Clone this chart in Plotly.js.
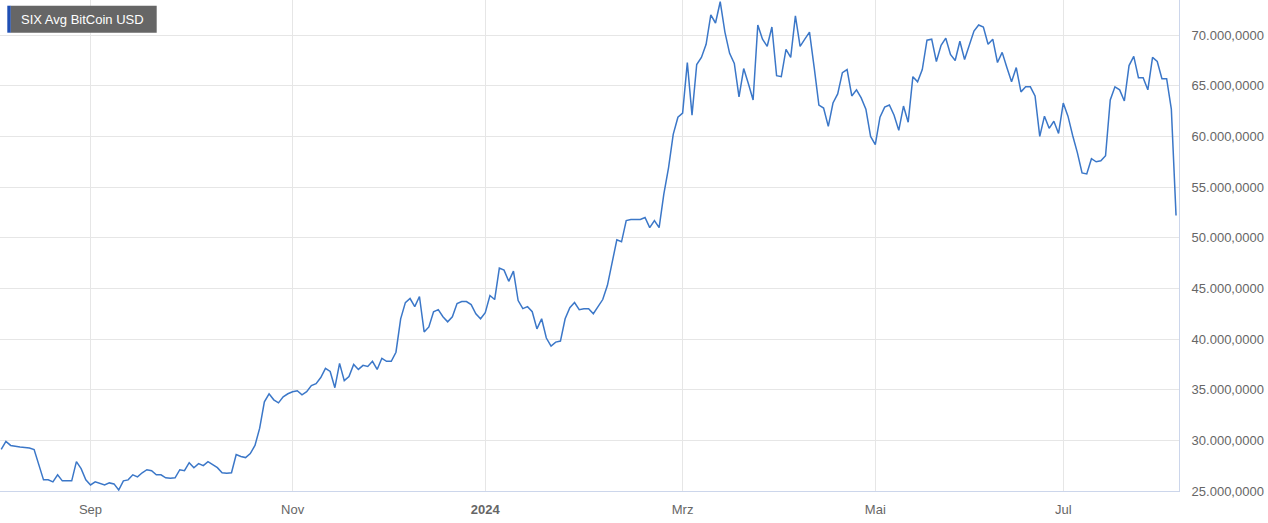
<!DOCTYPE html>
<html>
<head>
<meta charset="utf-8">
<script src="https://cdn.plot.ly/plotly-3.0.1.min.js"></script>
<style>
html,body{margin:0;padding:0;background:#fff;}
#chart{width:1268px;height:523px;}
</style>
</head>
<body>
<div id="chart"></div>
<script>
var seriesName = 'SIX Avg BitCoin USD';

var dates = [
'2023-08-07','2023-08-08','2023-08-09','2023-08-10','2023-08-11','2023-08-14','2023-08-15','2023-08-16','2023-08-17','2023-08-18',
'2023-08-21','2023-08-22','2023-08-23','2023-08-24','2023-08-25','2023-08-28','2023-08-29','2023-08-30','2023-08-31',
'2023-09-01','2023-09-04','2023-09-05','2023-09-06','2023-09-07','2023-09-08','2023-09-11','2023-09-12','2023-09-13','2023-09-14','2023-09-15',
'2023-09-18','2023-09-19','2023-09-20','2023-09-21','2023-09-22','2023-09-25','2023-09-26','2023-09-27','2023-09-28','2023-09-29',
'2023-10-02','2023-10-03','2023-10-04','2023-10-05','2023-10-06','2023-10-09','2023-10-10','2023-10-11','2023-10-12','2023-10-13',
'2023-10-16','2023-10-17','2023-10-18','2023-10-19','2023-10-20','2023-10-23','2023-10-24','2023-10-25','2023-10-26','2023-10-27','2023-10-30','2023-10-31',
'2023-11-01','2023-11-02','2023-11-03','2023-11-06','2023-11-07','2023-11-08','2023-11-09','2023-11-10','2023-11-13','2023-11-14','2023-11-15',
'2023-11-16','2023-11-17','2023-11-20','2023-11-21','2023-11-22','2023-11-23','2023-11-24','2023-11-27','2023-11-28','2023-11-29','2023-11-30',
'2023-12-01','2023-12-04','2023-12-05','2023-12-06','2023-12-07','2023-12-08','2023-12-11','2023-12-12','2023-12-13','2023-12-14','2023-12-15',
'2023-12-18','2023-12-19','2023-12-20','2023-12-21','2023-12-22','2023-12-27','2023-12-28','2023-12-29',
'2024-01-03','2024-01-04','2024-01-05','2024-01-08','2024-01-09','2024-01-10','2024-01-11','2024-01-12','2024-01-15','2024-01-16','2024-01-17',
'2024-01-18','2024-01-19','2024-01-22','2024-01-23','2024-01-24','2024-01-25','2024-01-26','2024-01-29','2024-01-30','2024-01-31',
'2024-02-01','2024-02-02','2024-02-05','2024-02-06','2024-02-07','2024-02-08','2024-02-09','2024-02-12','2024-02-13','2024-02-14','2024-02-15',
'2024-02-16','2024-02-19','2024-02-20','2024-02-21','2024-02-22','2024-02-23','2024-02-26','2024-02-27','2024-02-28','2024-02-29',
'2024-03-01','2024-03-04','2024-03-05','2024-03-06','2024-03-07','2024-03-08','2024-03-11','2024-03-12','2024-03-13','2024-03-14','2024-03-15',
'2024-03-18','2024-03-19','2024-03-20','2024-03-21','2024-03-22','2024-03-25','2024-03-26','2024-03-27','2024-03-28',
'2024-04-02','2024-04-03','2024-04-04','2024-04-05','2024-04-08','2024-04-09','2024-04-10','2024-04-11','2024-04-12','2024-04-15','2024-04-16',
'2024-04-17','2024-04-18','2024-04-19','2024-04-22','2024-04-23','2024-04-24','2024-04-25','2024-04-26','2024-04-29','2024-04-30',
'2024-05-02','2024-05-03','2024-05-06','2024-05-07','2024-05-08','2024-05-10','2024-05-13','2024-05-14','2024-05-15','2024-05-16',
'2024-05-17','2024-05-21','2024-05-22','2024-05-23','2024-05-24','2024-05-27','2024-05-28','2024-05-29','2024-05-30','2024-05-31',
'2024-06-03','2024-06-04','2024-06-05','2024-06-06','2024-06-07','2024-06-10','2024-06-11','2024-06-12','2024-06-13','2024-06-14',
'2024-06-17','2024-06-18','2024-06-19','2024-06-20','2024-06-21','2024-06-24','2024-06-25','2024-06-26','2024-06-27','2024-06-28',
'2024-07-01','2024-07-02','2024-07-03','2024-07-04','2024-07-05','2024-07-08','2024-07-09','2024-07-10','2024-07-11','2024-07-12',
'2024-07-15','2024-07-16','2024-07-17','2024-07-18','2024-07-19','2024-07-22','2024-07-23','2024-07-24','2024-07-25','2024-07-26',
'2024-07-29','2024-07-30','2024-07-31',
'2024-08-02','2024-08-05'
];

var prices = [
29100,29900,29500,29400,29350,29300,29250,29100,27500,26100,
26100,25900,26600,26000,26000,26000,27900,27200,26100,
25600,25900,25750,25600,25800,25700,25100,26000,26100,26600,26400,
26800,27100,27000,26600,26600,26300,26250,26300,27100,27000,
27800,27300,27700,27500,27900,27600,27300,26800,26750,26800,
28600,28400,28300,28700,29500,31200,33800,34600,34000,33700,34300,34600,
34800,34900,34500,34800,35400,35600,36200,37100,36800,35200,37600,
35900,36300,37500,37000,37400,37300,37800,37000,38100,37800,37800,
38700,42000,43600,44000,43200,44200,40700,41200,42700,42900,42200,
41700,42200,43500,43700,43700,43400,42500,42000,
42600,44300,43900,47000,46800,45700,46700,43800,43000,43200,42700,
41000,42000,40100,39300,39700,39800,42000,43100,43600,42900,
43000,43000,42500,43200,43900,45300,47400,49800,49600,51700,51800,
51800,51800,52000,51000,51700,51000,54300,56900,60200,61900,
62300,67300,62100,67100,67800,69100,72000,71200,73300,70300,68200,
67200,63900,66700,65200,63600,71000,69600,68900,70800,
66000,65900,68600,67800,71900,68900,69600,70300,66800,63100,62800,
61000,63300,64200,66300,66600,64000,64600,63800,62700,60000,
59200,61900,62900,63100,62100,60600,63000,61400,65900,65400,
66600,69500,69600,67400,69000,69700,68100,67500,69400,67600,
69100,70400,71000,70800,69100,69600,67300,68300,66800,65400,
66800,64400,64900,64900,64000,60000,62000,60800,61500,60300,
63300,62000,60100,58400,56400,56300,57800,57500,57600,58100,
63600,64900,64600,63500,67000,67900,65800,65800,64600,67800,
67400,65700,65700,
62700,52200
];

var monthTickDates = ['2023-09-01','2023-11-01','2024-01-03','2024-03-01','2024-05-02','2024-07-01'];
var monthTickLabels = ['Sep','Nov','<b>2024</b>','Mrz','Mai','Jul'];
var yTicks = [25000,30000,35000,40000,45000,50000,55000,60000,65000,70000];

var W = 1268, H = 523;
var mL = 0, mR = 89, mT = 0, mB = 32;
var plotW = W - mL - mR, plotH = H - mT - mB;
function px(x){ return x / plotW; }
function py(y){ return 1 - y / plotH; }

var trace = {
  type: 'scatter',
  mode: 'lines',
  x: dates,
  y: prices,
  name: seriesName,
  line: {color: '#3b77c8', width: 1.5},
  hoverinfo: 'skip'
};

var layout = {
  width: W, height: H,
  margin: {l: mL, r: mR, t: mT, b: mB, pad: 0},
  paper_bgcolor: '#ffffff',
  plot_bgcolor: '#ffffff',
  separators: ',.',
  showlegend: false,
  font: {family: '"Liberation Sans", Arial, sans-serif', size: 13, color: '#666666'},
  xaxis: {
    type: 'category',
    range: [-0.26, 250.63],
    tickmode: 'array',
    tickvals: monthTickDates,
    ticktext: monthTickLabels,
    showgrid: true,
    gridcolor: '#e6e6e6',
    gridwidth: 1,
    showline: true,
    linecolor: '#ccd6eb',
    linewidth: 1,
    ticks: '',
    ticklabelstandoff: 6,
    tickfont: {size: 13, color: '#666666'},
    zeroline: false,
    automargin: false,
    fixedrange: true
  },
  yaxis: {
    side: 'right',
    range: [25000, 73470],
    tickmode: 'array',
    tickvals: yTicks,
    tickformat: ',.4f',
    showgrid: true,
    gridcolor: '#e6e6e6',
    gridwidth: 1,
    showline: true,
    linecolor: '#ccd6eb',
    linewidth: 1,
    ticks: '',
    ticklabelstandoff: 9,
    tickfont: {size: 13, color: '#666666'},
    zeroline: false,
    automargin: false,
    fixedrange: true
  },
  shapes: [
    {type: 'rect', xref: 'paper', yref: 'paper', x0: px(10.5), x1: px(156.7), y0: py(32.7), y1: py(5.7),
     fillcolor: '#666666', line: {width: 0}, layer: 'above'},
    {type: 'rect', xref: 'paper', yref: 'paper', x0: px(7.3), x1: px(10.7), y0: py(32.7), y1: py(5.7),
     fillcolor: '#1f4fb4', line: {width: 0}, layer: 'above'}
  ],
  annotations: [
    {xref: 'paper', yref: 'paper', x: px(19.3), y: py(19.4), xanchor: 'left', yanchor: 'middle',
     text: seriesName, showarrow: false, font: {family: '"Liberation Sans", Arial, sans-serif', size: 13, color: '#ffffff'}}
  ],
  hovermode: false
};

Plotly.newPlot('chart', [trace], layout, {displayModeBar: false, staticPlot: true});
</script>
</body>
</html>
